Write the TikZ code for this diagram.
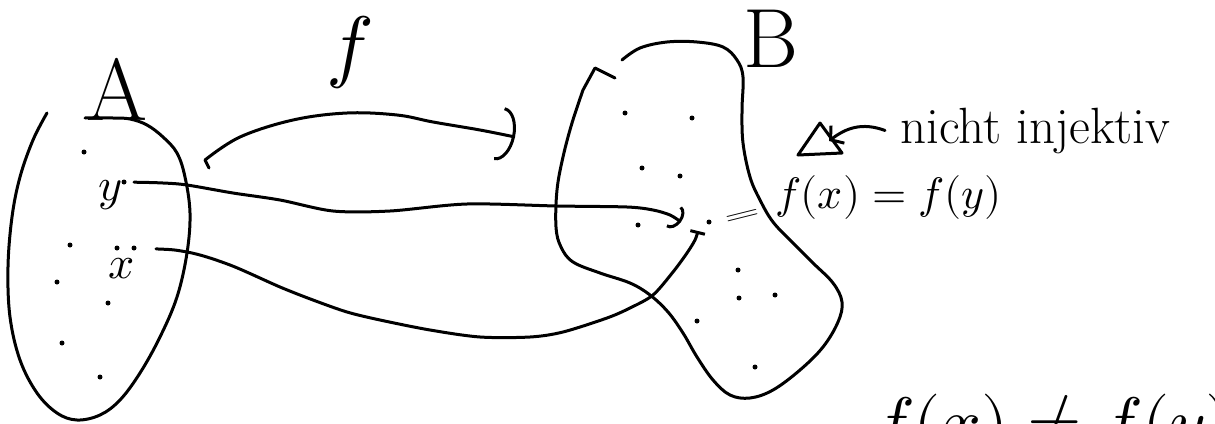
\documentclass[tikz,border=0pt]{standalone}
\usepackage{unicode-math}
\usetikzlibrary{arrows.meta}
\begin{document}
\begin{tikzpicture}[x=1pt,y=-1pt,
  pen/.style={line width=3pt, line cap=round, line join=round},
  dot/.style={circle, fill, inner sep=0pt, minimum size=5pt},
  lbl/.style={inner sep=0pt}]
\useasboundingbox (0,0) rectangle (1215,423);
\fill[white] (0,0) rectangle (1215,423);
\clip (0,0) rectangle (1215,423);

% set A
\draw[pen] plot[smooth,tension=.6] coordinates {(47,113) (33,140) (20,177) (12,217)
  (8,267) (10,317) (20,360) (37,393) (57,413) (77,420) (100,415) (120,400) (140,373)
  (160,337) (177,297) (187,253) (190,213) (185,177) (177,153) (163,137) (147,125)
  (130,119) (113,118) (85,118)};
\node[lbl, anchor=base] (labA) at (117,120) {\fontsize{88}{88}\selectfont A};

% set B
\draw[pen] (615,78) -- (595,68) -- plot[smooth,tension=.6] coordinates {(583,90)
  (572,123) (563,157) (557,190) (556,227) (561,247) (573,262) (600,273) (630,283)
  (650,295) (668,312) (683,333) (697,357) (713,380) (730,395) (750,398) (773,390)
  (800,370) (823,347) (838,322) (842,302) (833,283) (813,263) (793,243) (773,222)
  (760,200) (750,177) (743,143) (742,110) (743,77) (737,60) (723,47) (697,42)
  (667,42) (640,48) (622,60)};
\node[lbl, anchor=base] (labB) at (771,67) {\fontsize{84}{84}\selectfont B};

% elements of A
\foreach \p in {(84,152),(70,245),(117,248),(57,282),(108,303),(62,343),(100,377)}
  \node[dot] at \p {};
\node[dot] (py) at (124,182) {};
\node[dot] (px) at (134,248) {};
\node[lbl, anchor=base] (laby) at (110,200) {\fontsize{46}{46}\selectfont $y$};
\node[lbl, anchor=base] (labx) at (122,278) {\fontsize{46}{46}\selectfont $x$};

% elements of B
\foreach \p in {(625,113),(692,118),(642,168),(680,176),(638,225),(738,270),
  (739,298),(775,295),(697,321),(755,367)}
  \node[dot] at \p {};
\node[dot] (fxy) at (709,222) {};
\coordinate (ytip) at (681,222);
\coordinate (xtip) at (698,231);

% the map f
\coordinate (fs) at (205,160);
\coordinate (fe) at (515,137);
\draw[pen, -{Arc Barb[length=16pt,width=54pt]}] (209,168) -- plot[smooth,tension=.6]
  coordinates {(fs) (240,137) (293,120) (347,113) (397,115) (433,122) (480,130) (fe)};
\node[lbl, anchor=base] (labf) at (350,72) {\fontsize{80}{80}\selectfont $f$};

% images of y and x
\draw[pen, shorten <=10pt, -{Arc Barb[length=9pt,width=26pt]}]
  plot[smooth,tension=.5] coordinates {(py) (163,183) (187,185) (233,193) (280,200)
  (333,211) (390,211) (467,204) (557,206) (627,207) (653,210) (670,215) (ytip)};
\draw[pen, shorten <=22pt, -{Bar[width=15pt]}]
  plot[smooth,tension=.5] coordinates {(px) (187,252) (230,265) (280,287) (313,300)
  (347,312) (380,320) (430,330) (480,337) (530,337) (563,332) (607,318) (630,308)
  (653,295) (673,272) (687,253) (695,240) (xtip)};

% equation next to the common image
\node[lbl, rotate=14] (eqs) at (743,217) {\fontsize{46}{46}\selectfont\scalebox{1}[0.5]{$=$}};
\node[lbl, anchor=base west] (eq) at (775,208) {\fontsize{44}{44}\selectfont $f(x) = f(y)$};

% warning note
\draw[pen] (820,123) -- (798,155) -- (842,153) -- cycle;
\coordinate (warn) at (829,141);
\node[anchor=base west, inner xsep=15pt, inner ysep=0pt] (note) at (885,143)
  {\fontsize{51}{51}\selectfont nicht injektiv};
\draw[pen, -{Straight Barb[length=9pt,width=22pt]}] (note.west) .. controls (862,122) and (846,128) .. (warn);

% equation at the bottom edge
\node[lbl, anchor=base west] (bottom) at (873,446) {\fontsize{70}{70}\selectfont $f(x) \neq f(y)$};
\end{tikzpicture}
\end{document}
